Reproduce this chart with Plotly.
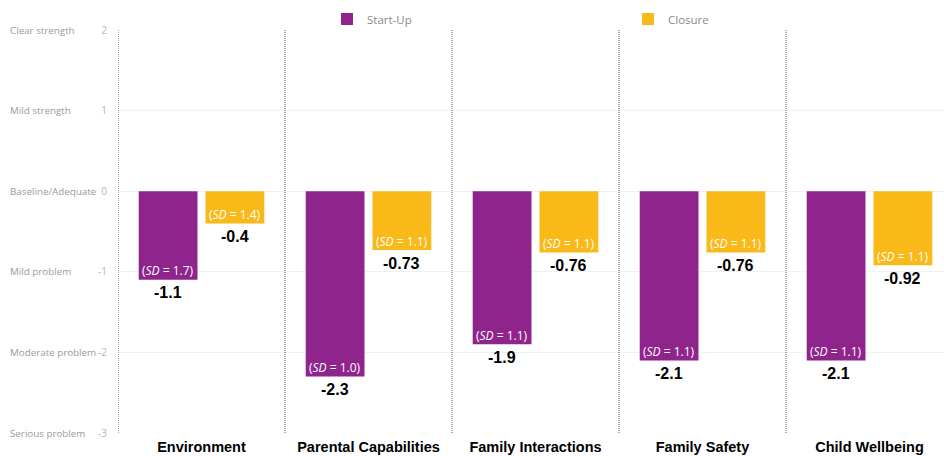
import plotly.graph_objects as go

categories = ["Environment", "Parental Capabilities", "Family Interactions", "Family Safety", "Child Wellbeing"]
startup_values = [-1.1, -2.3, -1.9, -2.1, -2.1]
closure_values = [-0.4, -0.73, -0.76, -0.76, -0.92]
startup_sd = [1.7, 1.0, 1.1, 1.1, 1.1]
closure_sd = [1.4, 1.1, 1.1, 1.1, 1.1]
y_tick_values = [2, 1, 0, -1, -2, -3]
y_tick_labels = ["2", "1", "0", "-1", "-2", "-3"]
y_tick_names = ["Clear strength", "Mild strength", "Baseline/Adequate", "Mild problem",
                "Moderate problem", "Serious problem"]

PURPLE = "#8F248D"
YELLOW = "#F9B918"
LEFT, TOP, BOTTOM = 118, 30, 23
W, H = 944, 456
plot_w = W - LEFT
cat_px = 167.0

x = list(range(len(categories)))
fig = go.Figure()
fig.add_trace(go.Bar(name="Start-Up", x=x, y=startup_values, marker_color=PURPLE,
                     marker_line_width=0))
fig.add_trace(go.Bar(name="Closure", x=x, y=closure_values, marker_color=YELLOW,
                     marker_line_width=0))

annotations = []
for offset, values, sds in ((-0.2, startup_values, startup_sd), (0.2, closure_values, closure_sd)):
    for i, (v, sd) in enumerate(zip(values, sds)):
        annotations.append(dict(x=i + offset, y=v, xref="x", yref="y", text=f"(<i>SD</i> = {sd:.1f})",
                                showarrow=False, yanchor="middle", yshift=9,
                                font=dict(family="Open Sans", size=12, color="white")))
        annotations.append(dict(x=i + offset, y=v, xref="x", yref="y", text=f"{v:g}",
                                showarrow=False, yanchor="middle", yshift=-13,
                                font=dict(family="Liberation Sans", size=16, color="black", weight="bold")))

for val, name in zip(y_tick_values, y_tick_names):
    annotations.append(dict(x=(8 - LEFT) / plot_w, y=val, xref="paper", yref="y", text=name,
                            showarrow=False, xanchor="left", yanchor="middle",
                            font=dict(family="Open Sans", size=9.8, color="#9a9a9a")))

shapes = []
for i in range(len(categories)):
    shapes.append(dict(type="line", xref="x", yref="y", x0=i - 0.5, x1=i - 0.5,
                       y0=min(y_tick_values), y1=max(y_tick_values),
                       line=dict(color="#555555", width=1, dash="1px,1px"), layer="above"))

fig.update_layout(
    width=W, height=H,
    margin=dict(l=LEFT, r=0, t=TOP, b=BOTTOM, pad=0),
    paper_bgcolor="white", plot_bgcolor="white",
    barmode="group", bargap=0.2, bargroupgap=0.12,
    showlegend=True,
    legend=dict(orientation="h", x=(327 - LEFT) / plot_w, xanchor="left",
                y=1 + (TOP - 19) / (H - TOP - BOTTOM), yanchor="middle",
                entrywidth=256, entrywidthmode="pixels",
                font=dict(family="Open Sans", size=11.5, color="#8a8a8a"),
                bgcolor="rgba(0,0,0,0)"),
    xaxis=dict(range=[-0.5, -0.5 + plot_w / cat_px], tickvals=x, ticktext=categories,
               tickfont=dict(family="Liberation Sans", size=14.5, color="black", weight="bold"),
               showgrid=False, zeroline=False, showline=False, ticks="", ticklabelstandoff=3),
    yaxis=dict(range=[min(y_tick_values), max(y_tick_values)], tickvals=y_tick_values,
               ticktext=y_tick_labels,
               tickfont=dict(family="Open Sans", size=10, color="#b5b5b5"),
               showgrid=True, gridcolor="#f1f1f1", gridwidth=1,
               zeroline=False, showline=False, ticks="", ticklabelstandoff=10),
    annotations=annotations,
    shapes=shapes,
)

fig.write_html("out.html")
